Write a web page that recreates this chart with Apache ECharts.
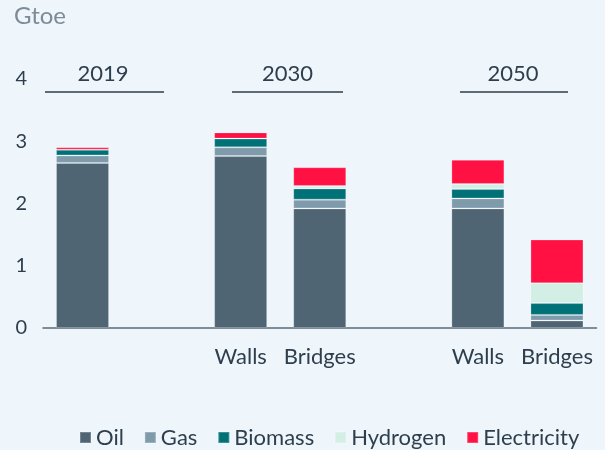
<!DOCTYPE html>
<html>
<head>
<meta charset="utf-8">
<script src="https://cdn.jsdelivr.net/npm/echarts@6/dist/echarts.min.js"></script>
<style>
  html, body { margin: 0; padding: 0; background: #eef6fc; }
  #chart { width: 605px; height: 450px; }
</style>
</head>
<body>
<div id="chart"></div>
<script>
// categories: 2019 | gap | 2030 Walls, Bridges | gap | 2050 Walls, Bridges
const categories = ["", "", "Walls", "Bridges", "", "Walls", "Bridges"];
const oil = [2.65, null, 2.76, 1.92, null, 1.92, 0.12];
const gas = [0.12, null, 0.14, 0.14, null, 0.16, 0.09];
const biomass = [0.09, null, 0.14, 0.18, null, 0.15, 0.19];
const hydrogen = [null, null, null, 0.04, null, 0.08, 0.32];
const electricity = [0.04, null, 0.10, 0.30, null, 0.39, 0.70];
const yTicks = [0, 1, 2, 3, 4];

const FONT = "Lato";
const TEXT = "#2e3e4c";

const seriesDefs = [
  { name: "Oil", data: oil, color: "#4f6574" },
  { name: "Gas", data: gas, color: "#7f9aab" },
  { name: "Biomass", data: biomass, color: "#007277" },
  { name: "Hydrogen", data: hydrogen, color: "#d3eee4" },
  { name: "Electricity", data: electricity, color: "#ff1243" },
];

function yearLabel(text, cx, x1, x2) {
  return [
    {
      type: "text",
      x: cx,
      y: 74,
      style: {
        text: text,
        font: `22px ${FONT}`,
        fill: TEXT,
        textAlign: "center",
        textVerticalAlign: "middle",
      },
    },
    {
      type: "line",
      shape: { x1: x1, y1: 92, x2: x2, y2: 92 },
      style: { stroke: "#5e6b76", lineWidth: 2 },
    },
  ];
}

const chart = echarts.init(document.getElementById("chart"), null, { renderer: "canvas" });

chart.setOption({
  backgroundColor: "#eef6fc",
  animation: false,
  grid: { left: 43, right: 8.5, top: 78.8, bottom: 122 },
  legend: {
    left: 79,
    top: 423.5,
    padding: 0,
    itemGap: 20,
    itemWidth: 11,
    itemHeight: 11,
    icon: "rect",
    textStyle: {
      fontFamily: FONT,
      fontSize: 22,
      color: TEXT,
      lineHeight: 22,
      padding: [0, 0, 6, 0],
    },
    data: seriesDefs.map((s) => s.name),
  },
  xAxis: {
    type: "category",
    data: categories,
    axisTick: { show: false },
    axisLine: { lineStyle: { color: "#5b6b77", width: 1.5 } },
    axisLabel: {
      interval: 0,
      margin: 18,
      fontFamily: FONT,
      fontSize: 22,
      lineHeight: 22,
      color: TEXT,
    },
  },
  yAxis: {
    type: "value",
    min: yTicks[0],
    max: yTicks[yTicks.length - 1],
    interval: 1,
    splitLine: { show: false },
    axisLine: { show: false },
    axisTick: { show: false },
    axisLabel: {
      margin: 16,
      fontFamily: FONT,
      fontSize: 20,
      color: TEXT,
      padding: [0, 0, 5, 0],
    },
  },
  graphic: [
    {
      type: "text",
      x: 14,
      y: 16,
      style: {
        text: "Gtoe",
        font: `24px ${FONT}`,
        fill: "#7d8b96",
        textVerticalAlign: "middle",
      },
    },
    ...yearLabel("2019", 103, 45, 164),
    ...yearLabel("2030", 287.5, 232, 343),
    ...yearLabel("2050", 513, 460, 568),
  ],
  series: seriesDefs.map((s) => ({
    name: s.name,
    type: "bar",
    stack: "total",
    barWidth: 53,
    data: s.data,
    itemStyle: {
      color: s.color,
      borderColor: "rgba(255,255,255,0.22)",
      borderWidth: 1,
    },
  })),
});
</script>
</body>
</html>
